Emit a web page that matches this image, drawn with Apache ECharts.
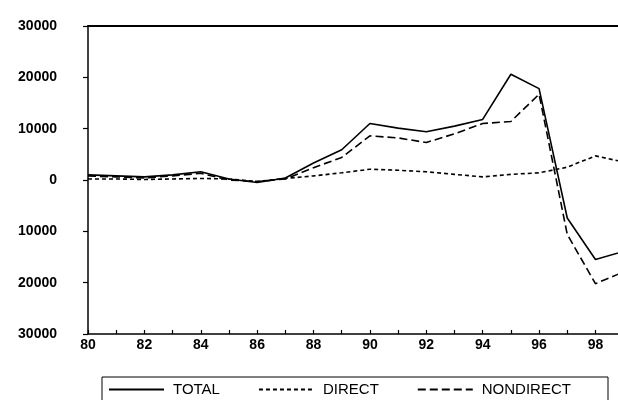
<!DOCTYPE html>
<html>
<head>
<meta charset="utf-8">
<script src="https://cdn.jsdelivr.net/npm/echarts@6/dist/echarts.min.js"></script>
<style>
  html, body { margin: 0; padding: 0; background: #fff; }
  #chart { width: 618px; height: 400px; }
</style>
</head>
<body>
<div id="chart"></div>
<script>
// Years (two-digit) on the horizontal axis
var years = [80, 81, 82, 83, 84, 85, 86, 87, 88, 89, 90, 91, 92, 93, 94, 95, 96, 97, 98, 99];

// Flows by year
var total     = [1000, 800, 600, 1000, 1600, 200, -500, 400, 3300, 5900, 11000, 10100, 9400, 10500, 11800, 20600, 17800, -7400, -15500, -13900];
var direct    = [200, 200, 100, 200, 300, 200, -300, 300, 800, 1400, 2100, 1900, 1600, 1100, 600, 1100, 1400, 2500, 4700, 3500];
var nondirect = [800, 600, 400, 800, 1300, 0, -300, 200, 2400, 4400, 8600, 8200, 7300, 9000, 11000, 11400, 16700, -10600, -20200, -17900];

var seriesNames = ['TOTAL', 'DIRECT', 'NONDIRECT'];
var yTicks = [-30000, -20000, -10000, 0, 10000, 20000, 30000];

// The page ends just before the 1999 point, so the view stops a little short of it
var xViewMax = 98.8;

function pairs(vals) {
  return years.map(function (y, i) { return [y, vals[i]]; });
}

var chart = echarts.init(document.getElementById('chart'), null, { renderer: 'canvas' });

var font = 'Arial, "Liberation Sans", sans-serif';

chart.setOption({
  backgroundColor: '#ffffff',
  animation: false,
  grid: { left: 88, top: 26, right: 0, height: 308 },
  xAxis: [
    {
      type: 'value',
      min: years[0],
      max: xViewMax,
      interval: 1,
      axisLine: { onZero: false, lineStyle: { color: '#000', width: 1.5 } },
      axisTick: { inside: true, length: 4, lineStyle: { color: '#000', width: 1.2 } },
      splitLine: { show: false },
      axisLabel: {
        color: '#000', fontFamily: font, fontWeight: 'bold', fontSize: 14, margin: 4,
        showMaxLabel: false,
        formatter: function (v) { return (v % 2 === 0) ? String(v) : ''; }
      }
    },
    {
      // plain frame line along the top of the plot
      type: 'value', position: 'top',
      min: years[0], max: xViewMax,
      axisLine: { onZero: false, lineStyle: { color: '#000', width: 2 } },
      axisTick: { show: false }, axisLabel: { show: false }, splitLine: { show: false }
    }
  ],
  yAxis: {
    type: 'value',
    min: yTicks[0],
    max: yTicks[yTicks.length - 1],
    interval: 10000,
    axisLine: { lineStyle: { color: '#000', width: 1.5 } },
    axisTick: { inside: false, length: 5, lineStyle: { color: '#000', width: 1.2 } },
    splitLine: { show: false },
    axisLabel: {
      color: '#000', fontFamily: font, fontWeight: 'bold', fontSize: 14, margin: 31,
      formatter: function (v) { return String(Math.abs(v)); }
    }
  },
  legend: {
    data: seriesNames,
    left: 108,
    top: 382,
    padding: 0,
    itemWidth: 55,
    itemHeight: 12,
    itemGap: 38,
    itemStyle: { opacity: 0 },
    textStyle: { color: '#000', fontFamily: font, fontSize: 15, padding: [0, 0, 0, 4] }
  },
  graphic: [{
    type: 'rect',
    shape: { x: 102, y: 377, width: 506, height: 40 },
    style: { fill: 'none', stroke: '#000', lineWidth: 1 },
    silent: true
  }],
  series: [
    {
      name: seriesNames[0], type: 'line', data: pairs(total),
      symbol: 'none', lineStyle: { color: '#000', width: 1.6, type: 'solid' },
      itemStyle: { color: '#000' }
    },
    {
      name: seriesNames[1], type: 'line', data: pairs(direct),
      symbol: 'none', lineStyle: { color: '#000', width: 1.6, type: [4, 3] },
      itemStyle: { color: '#000' }
    },
    {
      name: seriesNames[2], type: 'line', data: pairs(nondirect),
      symbol: 'none', lineStyle: { color: '#000', width: 1.6, type: [8, 4] },
      itemStyle: { color: '#000' }
    }
  ]
});
</script>
</body>
</html>
